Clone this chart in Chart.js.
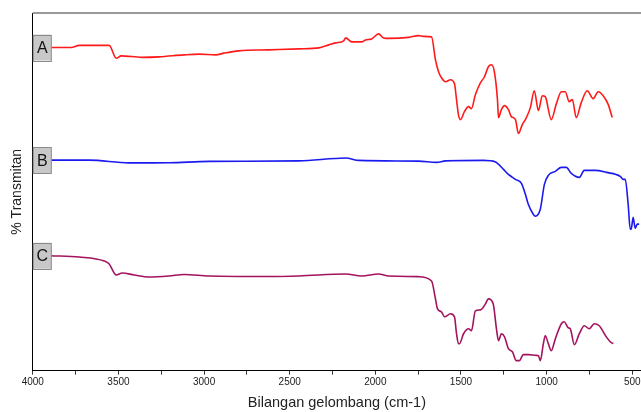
<!DOCTYPE html>
<html>
<head>
<meta charset="utf-8">
<script src="https://cdn.jsdelivr.net/npm/chart.js@4.4.1/dist/chart.umd.min.js"></script>
<style>
  html, body { margin: 0; padding: 0; background: #fff; }
  #wrap { position: relative; width: 641px; height: 412px; }
</style>
</head>
<body>
<div id="wrap"><canvas id="c"></canvas></div>
<script>
// FTIR spectra, offset vertically (arbitrary % transmittance units)
const wnA = [3898, 3776, 3729, 3554, 3513, 3484, 3362, 3263, 3117, 3030, 2931, 2884, 2797, 2622, 2447, 2330,
  2272, 2231, 2185, 2173, 2138, 2080, 2057, 2022, 1981, 1952, 1922, 1806, 1748, 1719, 1672, 1649, 1631, 1614,
  1590, 1561, 1538, 1526, 1515, 1503, 1480, 1456, 1439, 1416, 1386, 1363, 1340, 1322, 1305, 1287, 1281, 1264,
  1246, 1223, 1206, 1182, 1165, 1142, 1118, 1095, 1072, 1048, 1025, 1008, 973, 943, 914, 891, 868, 850, 827,
  798, 763, 728, 699, 670, 640, 617];
const tA = [324.3, 324.3, 326.5, 326.5, 313.5, 316, 314.5, 315, 317, 317.7, 317, 318.7, 321, 322, 323, 324,
  327, 329, 331, 334, 330, 330, 332, 333, 338, 334, 333.5, 334.5, 336.3, 335.5, 335, 312, 300, 294,
  290, 292, 288, 272, 257, 252, 260, 265, 263, 277, 289, 295, 305, 307, 300, 272, 254, 262,
  266, 262, 255, 252, 238, 247, 254, 264, 281, 261, 276, 275, 252, 268, 280, 280, 270, 272, 254,
  269, 281, 273, 280, 276, 267, 254];

const wnB = [3898, 3671, 3438, 3205, 2971, 2447, 2173, 2097, 1748, 1643, 1590, 1369, 1299, 1252, 1223, 1182,
  1147, 1124, 1107, 1078, 1066, 1037, 1013, 990, 949, 914, 885, 856, 809, 780, 716, 652, 570, 553, 541,
  524, 512, 506, 495, 483, 471, 460];
const tB = [211.3, 211.3, 208.5, 208.7, 210, 210.5, 213.5, 211, 210.3, 209, 210.5, 211, 209.5, 202, 197, 192,
  188, 177, 167, 157, 155, 162, 187, 196, 200, 204, 204, 198, 194, 201, 201, 199, 195, 192, 192,
  167, 142, 142, 154, 143, 147, 147];

const wnC = [3898, 3729, 3583, 3554, 3513, 3478, 3408, 3321, 3205, 3117, 2971, 2622, 2447, 2173, 2080, 1981,
  1922, 1748, 1672, 1649, 1637, 1614, 1596, 1561, 1538, 1526, 1515, 1509, 1485, 1456, 1439, 1416, 1386,
  1357, 1340, 1312, 1293, 1281, 1264, 1246, 1223, 1200, 1177, 1159, 1136, 1107, 1060, 1048, 1037, 1019,
  1008, 990, 973, 949, 914, 897, 874, 862, 838, 809, 780, 751, 722, 693, 652, 629, 611];
const tC = [115.3, 114, 110, 107, 96, 98, 96, 94, 95, 96.5, 95, 94.5, 95, 97, 95, 97,
  95, 94.3, 90, 72, 62, 59, 54, 57, 54, 37, 27, 27, 37, 42, 40, 60, 61,
  67, 72, 67, 42, 30, 37, 34, 22, 19, 10, 10, 16, 16, 15.3, 15, 10, 27,
  35, 27, 20, 32, 47, 49, 43, 42, 26, 37, 45, 42, 47, 45, 34, 29, 27];

const seriesNames = ['A', 'B', 'C'];
const seriesColors = ['#ff1a1a', '#1a1aee', '#a3135e'];
const xTicks = [500, 750, 1000, 1250, 1500, 1750, 2000, 2250, 2500, 2750, 3000, 3250, 3500, 3750, 4000];

const FONT = 'Arial, "Liberation Sans", sans-serif';

function toPoints(xs, ys) {
  return xs.map((x, i) => ({ x, y: ys[i] }));
}

// gray label boxes at the start of each trace + gray top frame line
const frameAndLabels = {
  id: 'frameAndLabels',
  afterDatasetsDraw(chart) {
    const { ctx, chartArea, scales } = chart;
    ctx.save();
    ctx.strokeStyle = '#9a9a9a';
    ctx.lineWidth = 2;
    ctx.beginPath();
    ctx.moveTo(chartArea.left, chartArea.top);
    ctx.lineTo(chartArea.right, chartArea.top);
    ctx.stroke();

    chart.data.datasets.forEach((ds) => {
      const yc = scales.y.getPixelForValue(ds.data[0].y);
      const x0 = chartArea.left + 0.5;
      const w = 18, h = 26;
      ctx.fillStyle = '#c8c8c8';
      ctx.fillRect(x0, yc - h / 2, w, h);
      ctx.strokeStyle = '#8a8a8a';
      ctx.lineWidth = 1;
      ctx.strokeRect(x0, Math.round(yc - h / 2) + 0.5, w, h);
      ctx.fillStyle = '#111';
      ctx.font = '16px ' + FONT;
      ctx.textAlign = 'center';
      ctx.textBaseline = 'middle';
      ctx.fillText(ds.label, x0 + w / 2, yc + 1);
    });
    ctx.restore();
  },
};

new Chart(document.getElementById('c'), {
  type: 'line',
  data: {
    datasets: [
      { label: seriesNames[0], data: toPoints(wnA, tA), borderColor: seriesColors[0] },
      { label: seriesNames[1], data: toPoints(wnB, tB), borderColor: seriesColors[1] },
      { label: seriesNames[2], data: toPoints(wnC, tC), borderColor: seriesColors[2] },
    ],
  },
  options: {
    responsive: true,
    maintainAspectRatio: false,
    animation: false,
    layout: { padding: { top: 13, right: 0, left: 0, bottom: 0 } },
    elements: {
      line: { borderWidth: 1.6, cubicInterpolationMode: 'monotone', fill: false },
      point: { radius: 0 },
    },
    plugins: {
      legend: { display: false },
      tooltip: { enabled: false },
    },
    scales: {
      x: {
        type: 'linear',
        reverse: true,
        min: 449,
        max: 4000,
        afterBuildTicks: (scale) => {
          scale.ticks = xTicks.map((v) => ({ value: v }));
        },
        grid: { display: true, drawOnChartArea: false, drawTicks: true, tickLength: 4, color: '#333' },
        border: { display: true, color: '#000', width: 1 },
        ticks: {
          autoSkip: false,
          maxRotation: 0,
          padding: 2,
          color: '#222',
          font: { family: FONT, size: 10 },
          callback: (v) => (v % 500 === 0 ? String(v) : ''),
        },
        title: {
          display: true,
          text: 'Bilangan gelombang (cm-1)',
          color: '#222',
          font: { family: FONT, size: 14.5 },
          padding: { top: 4, bottom: 0 },
        },
      },
      y: {
        min: 0,
        max: 359,
        grid: { display: false, drawTicks: false },
        border: { display: true, color: '#000', width: 1 },
        ticks: { display: false },
        title: {
          display: true,
          text: '% Transmitan',
          color: '#222',
          font: { family: FONT, size: 14 },
          padding: { top: 9, bottom: 7 },
        },
      },
    },
  },
  plugins: [frameAndLabels],
});
</script>
</body>
</html>
